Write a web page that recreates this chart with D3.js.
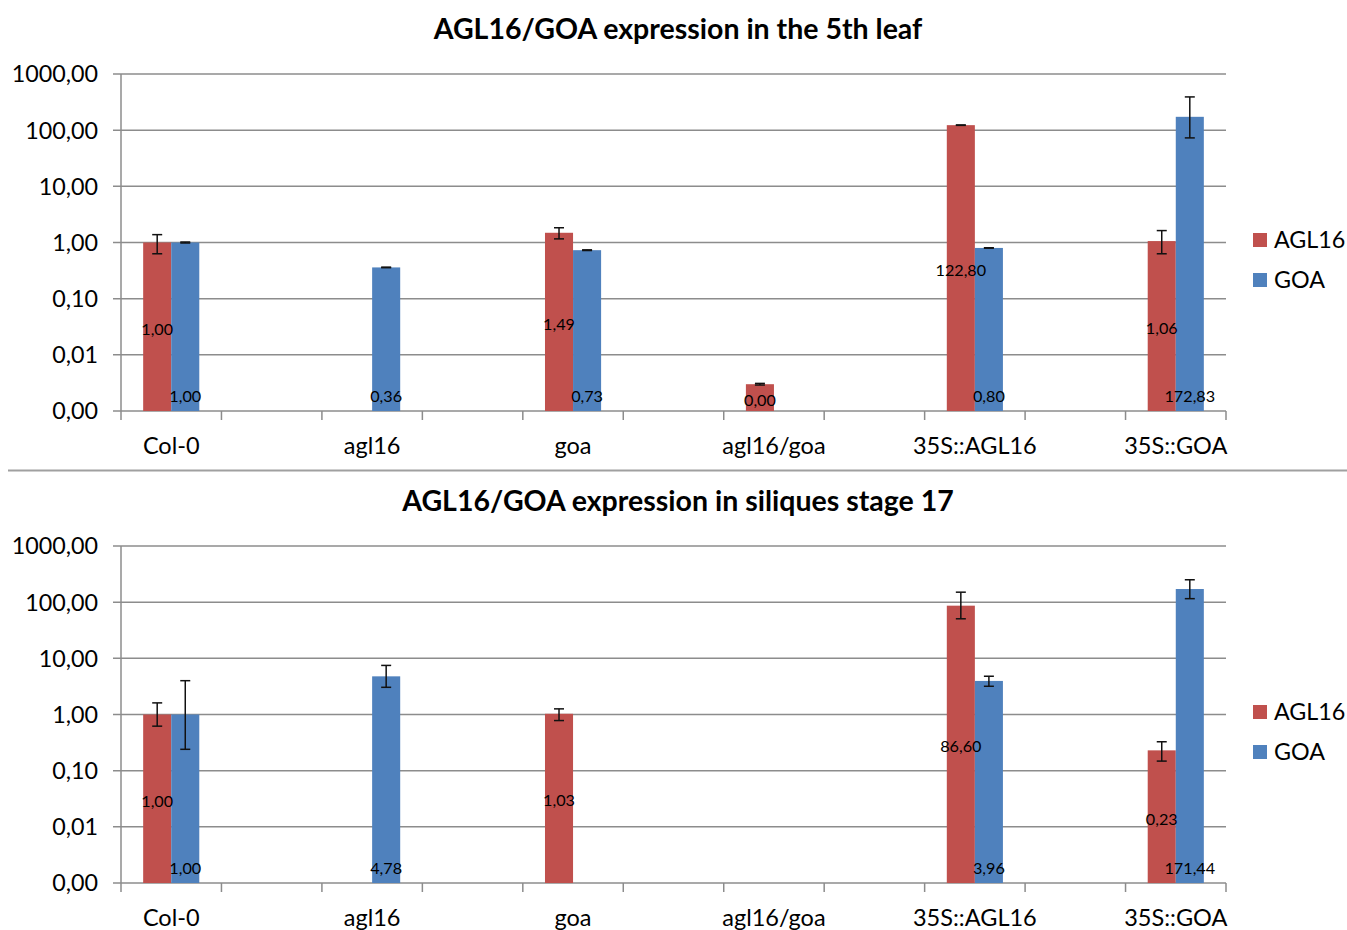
<!DOCTYPE html>
<html>
<head>
<meta charset="utf-8">
<script src="https://cdnjs.cloudflare.com/ajax/libs/d3/7.8.5/d3.min.js"></script>
<style>
  body { margin: 0; background: #fff; }
  text { font-family: Lato, "Open Sans", sans-serif; fill: #000; }
</style>
</head>
<body>
<script>
// chart size and plot area
var width  = 1347;
var height = 930;
var margin = {left: 121, top: 74};
var plotW  = 1105;
var plotH  = 337;
var panelGap = 472;

var categories  = ["Col-0", "agl16", "goa", "agl16/goa", "35S::AGL16", "35S::GOA"];
var seriesNames = ["AGL16", "GOA"];
var colors = {"AGL16": "#C0504D", "GOA": "#4F81BD"};
var yTicks = [0.001, 0.01, 0.1, 1, 10, 100, 1000];

// 5th leaf
var agl16Leaf        = [1.00, null, 1.49, 0.003, 122.80, 1.06];
var agl16LeafErrUp   = [0.38, null, 0.34, 0.0001, 1.0, 0.57];
var agl16LeafErrDown = [0.37, null, 0.33, 0.0001, 1.0, 0.43];
var goaLeaf          = [1.00, 0.36, 0.73, null, 0.80, 172.83];
var goaLeafErrUp     = [0.02, 0.004, 0.01, null, 0.006, 218];
var goaLeafErrDown   = [0.02, 0.004, 0.01, null, 0.006, 100];

// siliques stage 17
var agl16Sil        = [1.00, null, 1.03, null, 86.60, 0.23];
var agl16SilErrUp   = [0.61, null, 0.23, null, 64, 0.097];
var agl16SilErrDown = [0.38, null, 0.25, null, 36, 0.082];
var goaSil          = [1.00, 4.78, null, null, 3.96, 171.44];
var goaSilErrUp     = [3.0, 2.7, null, null, 0.84, 79];
var goaSilErrDown   = [0.76, 1.73, null, null, 0.78, 56];

var panels = [
    {"title": "AGL16/GOA expression in the 5th leaf",
     "values": {"AGL16": agl16Leaf, "GOA": goaLeaf},
     "errUp": {"AGL16": agl16LeafErrUp, "GOA": goaLeafErrUp},
     "errDown": {"AGL16": agl16LeafErrDown, "GOA": goaLeafErrDown}},
    {"title": "AGL16/GOA expression in siliques stage 17",
     "values": {"AGL16": agl16Sil, "GOA": goaSil},
     "errUp": {"AGL16": agl16SilErrUp, "GOA": goaSilErrUp},
     "errDown": {"AGL16": agl16SilErrDown, "GOA": goaSilErrDown}}
];

var fmt = function(v) { return d3.format(".2f")(v).replace(".", ","); };

var svg = d3.select("body").append("svg")
    .attr("width", width)
    .attr("height", height);

// every category sits in every other slot, the slots between stay empty
var x0 = d3.scaleBand().domain(d3.range(categories.length * 2 - 1)).range([0, plotW]);
var x1 = d3.scaleBand().domain(seriesNames).range([0, x0.bandwidth()]).paddingOuter(0.79);
var y  = d3.scaleLog().domain([0.001, 1000]).range([plotH, 0]);

var slotEdges = x0.domain().map(function(k) { return x0(k); }).concat([plotW]);
var barMid = function(i, s) { return x0(i * 2) + x1(s) + x1.bandwidth() / 2; };

// separator between the two charts
svg.append("line")
    .attr("x1", 8).attr("x2", width)
    .attr("y1", 470.5).attr("y2", 470.5)
    .attr("stroke", "#a0a0a0").attr("stroke-width", 2);

panels.forEach(function(panel, p) {
    var top = margin.top + p * panelGap;
    var g = svg.append("g").attr("transform", "translate(" + margin.left + "," + top + ")");

    // title
    svg.append("text")
        .attr("x", 678).attr("y", top - 35)
        .attr("text-anchor", "middle")
        .style("font-size", "28.5px").style("font-weight", "bold")
        .text(panel.title);

    // horizontal gridlines + y ticks
    g.append("g").selectAll("line").data(yTicks).enter().append("line")
        .attr("x1", -8).attr("x2", plotW)
        .attr("y1", function(d) { return y(d); })
        .attr("y2", function(d) { return y(d); })
        .attr("stroke", "#8c8c8c").attr("stroke-width", 1.5);

    g.append("g").selectAll("text").data(yTicks).enter().append("text")
        .attr("x", -23)
        .attr("y", function(d) { return y(d); })
        .attr("dy", "0.36em")
        .attr("text-anchor", "end")
        .style("font-size", "23.3px")
        .text(fmt);

    var rowsBySeries = {};
    seriesNames.forEach(function(s) {
        rowsBySeries[s] = categories.map(function(c, i) {
            return {i: i, v: panel.values[s][i], up: panel.errUp[s][i], down: panel.errDown[s][i]};
        }).filter(function(d) { return d.v != null; });
    });

    // bars
    seriesNames.forEach(function(s) {
        g.append("g").selectAll("rect").data(rowsBySeries[s]).enter().append("rect")
            .attr("x", function(d) { return x0(d.i * 2) + x1(s); })
            .attr("width", x1.bandwidth())
            .attr("y", function(d) { return y(d.v); })
            .attr("height", function(d) { return plotH - y(d.v); })
            .attr("fill", colors[s]);
    });

    seriesNames.forEach(function(s) {
        // error bars
        var eb = g.append("g").selectAll("g").data(rowsBySeries[s]).enter().append("g")
            .attr("transform", function(d) { return "translate(" + barMid(d.i, s) + ",0)"; })
            .attr("stroke", "#111").attr("stroke-width", 1.5);
        eb.append("line")
            .attr("y1", function(d) { return y(d.v + d.up); })
            .attr("y2", function(d) { return y(d.v - d.down); });
        eb.append("line").attr("x1", -5).attr("x2", 5)
            .attr("y1", function(d) { return y(d.v + d.up); })
            .attr("y2", function(d) { return y(d.v + d.up); });
        eb.append("line").attr("x1", -5).attr("x2", 5)
            .attr("y1", function(d) { return y(d.v - d.down); })
            .attr("y2", function(d) { return y(d.v - d.down); });

        // data labels: AGL16 in the bar centre, GOA at the inside base
        g.append("g").selectAll("text").data(rowsBySeries[s]).enter().append("text")
            .attr("x", function(d) { return barMid(d.i, s); })
            .attr("y", function(d) {
                return s == "AGL16" ? (y(d.v) + plotH) / 2 + 8 : plotH - 9;
            })
            .attr("text-anchor", "middle")
            .style("font-size", "16.2px")
            .text(function(d) { return fmt(d.v); });
    });

    // axes
    g.append("line")
        .attr("x1", 0).attr("x2", 0).attr("y1", 0).attr("y2", plotH)
        .attr("stroke", "#8c8c8c").attr("stroke-width", 1.5);
    g.append("g").selectAll("line").data(slotEdges).enter().append("line")
        .attr("x1", function(d) { return d; }).attr("x2", function(d) { return d; })
        .attr("y1", plotH).attr("y2", plotH + 9)
        .attr("stroke", "#8c8c8c").attr("stroke-width", 1.5);

    g.append("g").selectAll("text").data(categories).enter().append("text")
        .attr("x", function(d, i) { return x0(i * 2) + x0.bandwidth() / 2; })
        .attr("y", plotH + 43)
        .attr("text-anchor", "middle")
        .style("font-size", "23.5px")
        .text(function(d) { return d; });

    // legend
    var leg = g.append("g").selectAll("g").data(seriesNames).enter().append("g")
        .attr("transform", function(d, i) { return "translate(" + (plotW + 27) + "," + (166 + i * 40) + ")"; });
    leg.append("rect")
        .attr("x", 0).attr("y", -7).attr("width", 14).attr("height", 14)
        .attr("fill", function(d) { return colors[d]; });
    leg.append("text")
        .attr("x", 21).attr("dy", "0.36em")
        .style("font-size", "23.3px")
        .text(function(d) { return d; });
});
</script>
</body>
</html>
